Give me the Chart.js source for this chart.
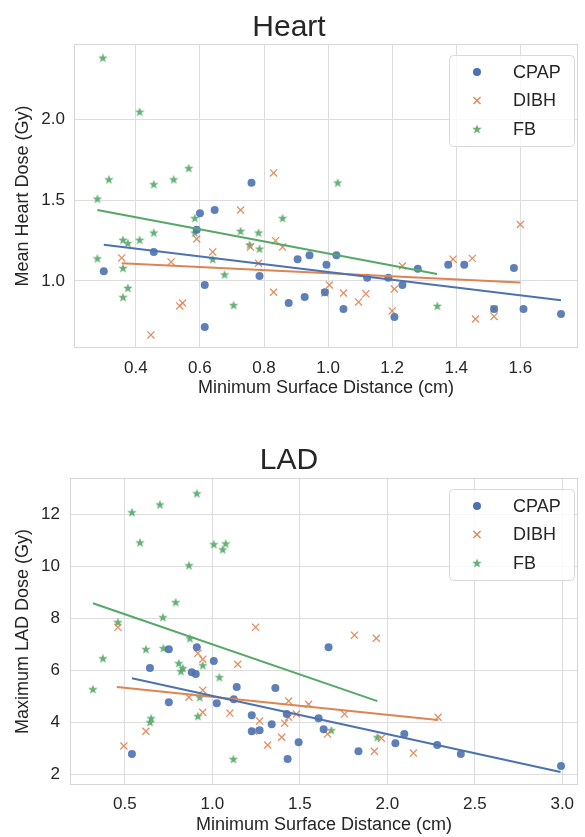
<!DOCTYPE html>
<html lang="en">
<head>
<meta charset="UTF-8">
<title>Heart / LAD dose vs surface distance</title>
<script src="https://cdn.jsdelivr.net/npm/chart.js@4.4.0/dist/chart.umd.min.js"></script>
<style>
  body { margin: 0; background: #fff; }
  .wrap { position: relative; width: 585px; height: 837px; }
  #heart { position: absolute; left: 0; top: 0; }
  #lad { position: absolute; left: 0; top: 418px; }
</style>
</head>
<body>
<div class="wrap">
  <canvas id="heart" width="585" height="418"></canvas>
  <canvas id="lad" width="585" height="419"></canvas>
</div>
<script>
// ---- Heart panel data ----
const heartCpapX = [0.30, 0.456, 0.60, 0.59, 0.646, 0.615, 0.615, 0.761, 0.786, 0.877, 0.927, 0.905, 0.942, 0.995, 1.026, 0.99, 1.048, 1.122, 1.188, 1.232, 1.207, 1.28, 1.375, 1.425, 1.518, 1.58, 1.61, 1.727];
const heartCpapY = [1.06, 1.18, 1.42, 1.317, 1.44, 0.975, 0.714, 1.609, 1.03, 0.863, 0.90, 1.135, 1.16, 1.10, 1.16, 0.93, 0.826, 1.02, 1.02, 0.975, 0.776, 1.075, 1.10, 1.10, 0.826, 1.08, 0.826, 0.795];
const heartDibhX = [0.356, 0.51, 0.447, 0.537, 0.546, 0.59, 0.64, 0.727, 0.758, 0.783, 0.83, 0.836, 0.858, 0.83, 0.99, 1.004, 1.048, 1.095, 1.118, 1.20, 1.207, 1.232, 1.39, 1.45, 1.46, 1.518, 1.518, 1.60];
const heartDibhY = [1.143, 1.118, 0.665, 0.845, 0.863, 1.26, 1.18, 1.44, 1.21, 1.11, 0.93, 1.25, 1.21, 1.67, 0.925, 0.975, 0.925, 0.87, 0.92, 0.814, 0.95, 1.093, 1.135, 1.14, 0.764, 0.826, 0.78, 1.35];
const heartFbX = [0.297, 0.412, 0.316, 0.456, 0.518, 0.565, 0.28, 1.03, 0.36, 0.375, 0.412, 0.456, 0.28, 0.36, 0.375, 0.36, 0.584, 0.584, 0.64, 0.677, 0.705, 0.727, 0.755, 0.783, 0.786, 0.858, 1.341];
const heartFbY = [2.385, 2.05, 1.63, 1.60, 1.63, 1.70, 1.51, 1.61, 1.255, 1.235, 1.255, 1.30, 1.14, 1.08, 0.957, 0.90, 1.39, 1.30, 1.135, 1.04, 0.85, 1.31, 1.225, 1.30, 1.20, 1.39, 0.845];
// fitted lines (end points)
const heartCpapFitX = [0.30, 1.727], heartCpapFitY = [1.224, 0.88];
const heartDibhFitX = [0.356, 1.60], heartDibhFitY = [1.11, 0.99];
const heartFbFitX = [0.28, 1.34], heartFbFitY = [1.44, 1.043];
const heartXTicks = [0.4, 0.6, 0.8, 1.0, 1.2, 1.4, 1.6];
const heartYTicks = [1.0, 1.5, 2.0];

// ---- LAD panel data ----
const ladCpapX = [0.751, 0.911, 0.643, 1.008, 0.882, 0.905, 0.54, 0.751, 1.025, 1.139, 1.122, 1.36, 1.225, 1.225, 1.27, 1.339, 1.425, 1.493, 1.43, 1.607, 1.664, 1.636, 1.835, 2.046, 2.097, 2.285, 2.42, 2.993];
const ladCpapY = [6.81, 6.88, 6.08, 6.35, 5.92, 5.85, 2.77, 4.77, 4.73, 5.35, 4.88, 5.31, 4.27, 3.65, 3.69, 3.92, 4.31, 3.23, 2.58, 4.15, 6.88, 3.73, 2.88, 3.19, 3.54, 3.12, 2.77, 2.31];
const ladDibhX = [0.46, 1.247, 1.812, 1.937, 0.917, 0.945, 1.145, 0.945, 0.866, 0.945, 1.10, 0.62, 0.494, 1.27, 1.236, 1.316, 1.396, 1.413, 1.436, 1.436, 1.48, 1.55, 1.755, 1.658, 1.926, 1.966, 2.149, 2.29];
const ladDibhY = [7.65, 7.65, 7.35, 7.23, 6.65, 6.42, 6.23, 5.23, 4.96, 4.38, 4.35, 3.65, 3.08, 4.04, 3.65, 3.12, 3.42, 3.96, 4.81, 4.19, 4.31, 4.69, 4.31, 3.54, 2.88, 3.38, 2.81, 4.19];
const ladFbX = [0.911, 0.70, 0.54, 0.586, 1.008, 1.076, 1.059, 0.866, 0.79, 0.717, 0.46, 0.871, 0.374, 0.62, 0.72, 0.317, 0.808, 0.831, 0.82, 0.945, 1.04, 0.928, 0.917, 0.65, 0.644, 1.12, 1.68, 1.943];
const ladFbY = [12.81, 12.38, 12.08, 10.92, 10.85, 10.88, 10.65, 10.04, 8.62, 8.04, 7.85, 7.23, 6.46, 6.81, 6.85, 5.27, 6.27, 6.08, 5.96, 6.19, 5.73, 4.96, 4.23, 4.15, 4.0, 2.58, 3.69, 3.42];
const ladCpapFitX = [0.54, 2.99], ladCpapFitY = [5.69, 2.08];
const ladDibhFitX = [0.454, 2.29], ladDibhFitY = [5.35, 4.08];
const ladFbFitX = [0.317, 1.943], ladFbFitY = [8.58, 4.81];
const ladXTicks = [0.5, 1.0, 1.5, 2.0, 2.5, 3.0];
const ladYTicks = [2, 4, 6, 8, 10, 12];

const groups = ['CPAP', 'DIBH', 'FB'];

Chart.defaults.font.family = '"Liberation Sans", Arial, sans-serif';
Chart.defaults.color = '#262626';

// filled five point star like matplotlib's '*' marker
function starImage(color) {
  const c = document.createElement('canvas');
  c.width = 10; c.height = 10;
  const g = c.getContext('2d');
  g.fillStyle = color;
  g.beginPath();
  for (let i = 0; i < 10; i++) {
    const r = i % 2 === 0 ? 5 : 2.1;
    const a = -Math.PI / 2 + i * Math.PI / 5;
    const px = 5 + r * Math.cos(a), py = 5.4 + r * Math.sin(a);
    if (i === 0) g.moveTo(px, py); else g.lineTo(px, py);
  }
  g.closePath();
  g.fill();
  return c;
}

const blue = '#4c72b0', orange = '#dd8452', green = '#55a868';
const starPt = starImage('rgba(85,168,104,0.9)');

function pts(xs, ys) {
  return xs.map((x, i) => ({ x: x, y: ys[i] }));
}

const frame = {
  id: 'frame',
  beforeDatasetsDraw(chart) {
    const a = chart.chartArea, ctx = chart.ctx;
    ctx.save();
    ctx.strokeStyle = '#d6d6d6';
    ctx.lineWidth = 1;
    ctx.strokeRect(a.left + 0.5, a.top + 0.5, a.right - a.left - 1, a.bottom - a.top - 1);
    ctx.restore();
  }
};

const boxLegend = {
  id: 'boxLegend',
  afterDraw(chart) {
    const a = chart.chartArea, ctx = chart.ctx;
    const x0 = a.right - 129, y0 = a.top + 11, w = 125, h = 91;
    ctx.save();
    ctx.fillStyle = 'rgba(255,255,255,0.8)';
    ctx.strokeStyle = '#d9d9d9';
    ctx.lineWidth = 1;
    ctx.beginPath();
    ctx.roundRect(x0 + 0.5, y0 + 0.5, w, h, 4);
    ctx.fill();
    ctx.stroke();
    const styles = [
      { pointStyle: 'circle', radius: 4, backgroundColor: blue, borderColor: blue, borderWidth: 0 },
      { pointStyle: 'crossRot', radius: 5, borderColor: orange, borderWidth: 1.3 },
      { pointStyle: starPt, radius: 5 }
    ];
    ctx.font = '18px "Liberation Sans", Arial, sans-serif';
    ctx.textBaseline = 'middle';
    ctx.fillStyle = '#262626';
    groups.forEach((g, i) => {
      const y = y0 + 17 + i * 28.5;
      ctx.save();
      ctx.fillStyle = styles[i].backgroundColor || '#000';
      ctx.strokeStyle = styles[i].borderColor || '#000';
      ctx.lineWidth = styles[i].borderWidth || 1;
      Chart.helpers.drawPoint(ctx, styles[i], x0 + 28, y);
      ctx.restore();
      ctx.fillText(g, x0 + 64, y + 1);
    });
    ctx.restore();
  }
};

function makeChart(id, cfg) {
  const ds = [
    { label: 'CPAP fit', type: 'line', data: pts(cfg.fits[0][0], cfg.fits[0][1]), borderColor: blue, borderWidth: 2, pointRadius: 0, fill: false, order: 0 },
    { label: 'DIBH fit', type: 'line', data: pts(cfg.fits[1][0], cfg.fits[1][1]), borderColor: orange, borderWidth: 2, pointRadius: 0, fill: false, order: 0 },
    { label: 'FB fit', type: 'line', data: pts(cfg.fits[2][0], cfg.fits[2][1]), borderColor: green, borderWidth: 2, pointRadius: 0, fill: false, order: 0 },
    { label: 'CPAP', data: pts(cfg.cpap[0], cfg.cpap[1]), pointStyle: 'circle', pointRadius: 4, backgroundColor: 'rgba(76,114,176,0.9)', borderWidth: 0, order: 1 },
    { label: 'DIBH', data: pts(cfg.dibh[0], cfg.dibh[1]), pointStyle: 'crossRot', pointRadius: 5, borderColor: 'rgba(221,132,82,0.9)', borderWidth: 1.3, order: 1 },
    { label: 'FB', data: pts(cfg.fb[0], cfg.fb[1]), pointStyle: starPt, pointRadius: 5, order: 1 }
  ];
  return new Chart(document.getElementById(id).getContext('2d'), {
    type: 'scatter',
    data: { datasets: ds },
    options: {
      responsive: false,
      animation: false,
      layout: { padding: { left: 0, right: 7, top: 0, bottom: 0 } },
      plugins: {
        legend: { display: false },
        tooltip: { enabled: false },
        title: {
          display: true,
          text: cfg.title,
          color: '#262626',
          font: { size: 30, weight: 'normal', lineHeight: 1 },
          padding: cfg.titlePad
        }
      },
      scales: {
        x: {
          type: 'linear',
          min: cfg.xRange[0], max: cfg.xRange[1],
          afterBuildTicks: s => { s.ticks = cfg.xTicks.map(v => ({ value: v })); },
          afterFit: s => { s.height = cfg.xHeight; },
          ticks: { padding: cfg.xTickPad, font: { size: 17 }, color: '#262626', maxRotation: 0, callback: v => v.toFixed(1) },
          grid: { color: '#dddddd', drawTicks: false },
          border: { display: false },
          title: { display: true, text: 'Minimum Surface Distance (cm)', font: { size: 18 }, color: '#262626', padding: { top: 0, bottom: cfg.xTitlePad } }
        },
        y: {
          type: 'linear',
          min: cfg.yRange[0], max: cfg.yRange[1],
          afterBuildTicks: s => { s.ticks = cfg.yTicks.map(v => ({ value: v })); },
          afterFit: s => { s.width = cfg.yWidth; },
          ticks: { padding: cfg.yTickPad, font: { size: 17 }, color: '#262626', callback: v => cfg.yFmt(v) },
          grid: { color: '#dddddd', drawTicks: false },
          border: { display: false },
          title: { display: true, text: cfg.yTitle, font: { size: 18 }, color: '#262626', padding: { top: 12, bottom: 0 } }
        }
      }
    },
    plugins: [frame, boxLegend]
  });
}

makeChart('heart', {
  title: 'Heart',
  titlePad: { top: 13, bottom: 1 },
  yTitle: 'Mean Heart Dose (Gy)',
  cpap: [heartCpapX, heartCpapY], dibh: [heartDibhX, heartDibhY], fb: [heartFbX, heartFbY],
  fits: [[heartCpapFitX, heartCpapFitY], [heartDibhFitX, heartDibhFitY], [heartFbFitX, heartFbFitY]],
  xRange: [0.207, 1.78], yRange: [0.584, 2.47],
  xTicks: heartXTicks, yTicks: heartYTicks,
  xHeight: 70, yWidth: 74, xTickPad: 10, yTickPad: 9, xTitlePad: 19,
  yFmt: v => v.toFixed(1)
});

makeChart('lad', {
  title: 'LAD',
  titlePad: { top: 28, bottom: 2 },
  yTitle: 'Maximum LAD Dose (Gy)',
  cpap: [ladCpapX, ladCpapY], dibh: [ladDibhX, ladDibhY], fb: [ladFbX, ladFbY],
  fits: [[ladCpapFitX, ladCpapFitY], [ladDibhFitX, ladDibhFitY], [ladFbFitX, ladFbFitY]],
  xRange: [0.186, 3.09], yRange: [1.58, 13.4],
  xTicks: ladXTicks, yTicks: ladYTicks,
  xHeight: 52, yWidth: 70, xTickPad: 9, yTickPad: 10, xTitlePad: 1,
  yFmt: v => String(v)
});
</script>
</body>
</html>
